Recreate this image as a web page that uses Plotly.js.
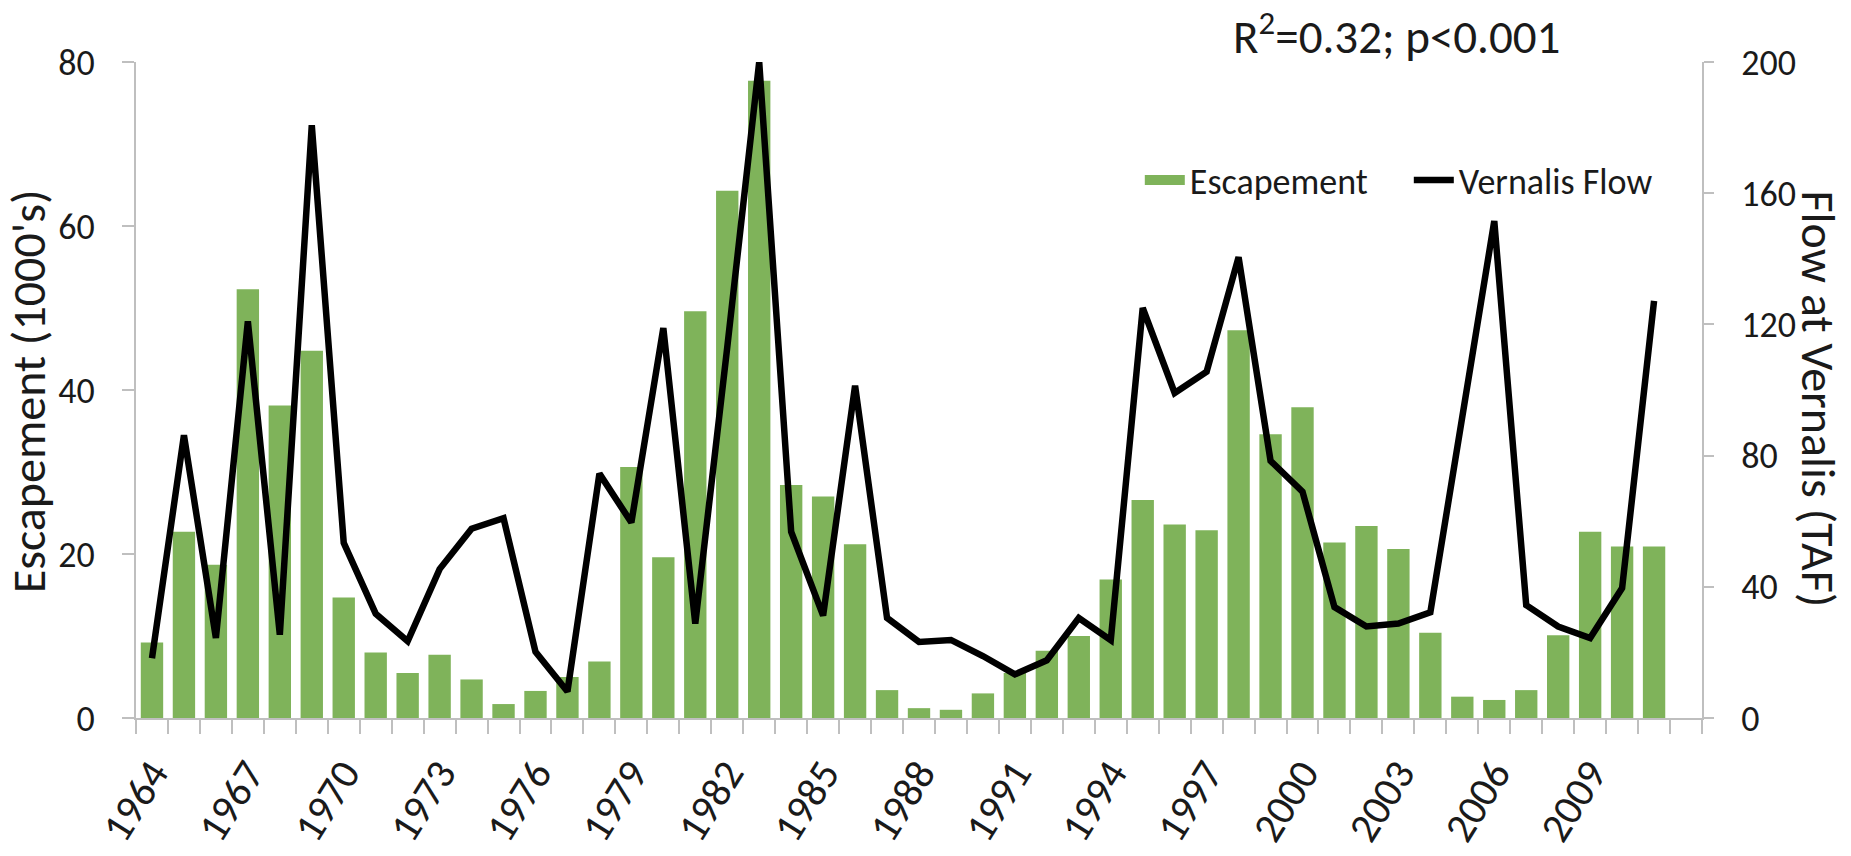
<!DOCTYPE html>
<html>
<head>
<meta charset="utf-8">
<script src="https://cdn.plot.ly/plotly-3.0.1.min.js"></script>
<style>
html,body{margin:0;padding:0;background:#fff;}
#chart{width:1851px;height:856px;}
</style>
</head>
<body>
<div id="chart"></div>
<script>
// ---- data ----
const years = [1964,1965,1966,1967,1968,1969,1970,1971,1972,1973,1974,1975,1976,
  1977,1978,1979,1980,1981,1982,1983,1984,1985,1986,1987,1988,1989,
  1990,1991,1992,1993,1994,1995,1996,1997,1998,1999,2000,
  2001,2002,2003,2004,2005,2006,2007,2008,2009,2010,2011];

// Escapement (1000's) - bars, left axis
const escapement = [9.2,22.7,18.7,52.3,38.1,44.8,14.7,8.0,5.5,7.7,4.7,1.7,3.3,
  5.0,6.9,30.6,19.6,49.6,64.3,77.7,28.4,27.0,21.2,3.4,1.2,1.0,
  3.0,5.5,8.2,10.0,16.9,26.6,23.6,22.9,47.3,34.6,37.9,
  21.4,23.4,20.6,10.4,2.6,2.2,3.4,10.1,22.7,20.9,20.9];

// Flow at Vernalis (TAF) - line, right axis
const vernalisFlow = [18.2,86.2,24.4,120.9,25.4,180.7,53.4,31.8,23.4,45.4,57.7,60.9,20.2,
  8.1,74.5,59.6,118.9,28.8,113,200,56.8,31.2,101.3,30.5,23.2,23.8,
  18.9,13.3,17.6,30.5,23.7,125.0,99.1,105.6,140.5,78.4,69.0,
  33.8,27.9,28.8,32.2,91,151.5,34.4,27.9,24.4,39.6,127.2];

// x tick labels shown every third year
const tickYears = [1964,1967,1970,1973,1976,1979,1982,1985,1988,1991,1994,1997,2000,2003,2006,2009];
const tickLabels = tickYears.map(String);

const leftTicks = [0,20,40,60,80];
const rightTicks = [0,40,80,120,160,200];

const FONT = "Carlito, Calibri, Lato, 'Open Sans', sans-serif";
const TXT = '#1a1a1a';
const AX = '#bfbfbf';
const GREEN = '#7fb35a';

const traces = [
  {
    type: 'bar', name: 'Escapement', x: years, y: escapement,
    marker: {color: GREEN}, width: 0.7, yaxis: 'y', showlegend: false
  },
  // legend key for the bars (wide green block as in the reference)
  {
    type: 'scatter', mode: 'lines', name: 'Escapement', x: [null], y: [null],
    line: {color: GREEN, width: 18}, yaxis: 'y', showlegend: true
  },
  {
    type: 'scatter', mode: 'lines', name: 'Vernalis Flow', x: years, y: vernalisFlow,
    line: {color: '#000000', width: 6.5}, yaxis: 'y2'
  }
];

const layout = {
  width: 1851, height: 856,
  margin: {l: 136, r: 149, t: 62, b: 138},
  paper_bgcolor: '#ffffff', plot_bgcolor: '#ffffff',
  font: {family: FONT, color: TXT, size: 36},
  showlegend: true,
  title: {
    text: 'R<sup>2</sup>=0.32; p&lt;0.001',
    font: {family: FONT, size: 47, color: TXT},
    x: 0.7546, xanchor: 'center', xref: 'container',
    y: 0.957, yanchor: 'middle', yref: 'container'
  },
  xaxis: {
    range: [1963.5, 2012.5],
    tickmode: 'array', tickvals: tickYears, ticktext: tickLabels,
    tickangle: -58, ticks: '', ticklabelstandoff: 12,
    tickfont: {family: FONT, size: 42, color: TXT},
    showline: true, linecolor: AX, linewidth: 2,
    showgrid: false, zeroline: false,
    minor: {tick0: 1963.5, dtick: 1, ticks: 'outside', ticklen: 14, tickcolor: AX, tickwidth: 2, showgrid: false}
  },
  yaxis: {
    range: [0, 80], tickmode: 'array', tickvals: leftTicks,
    ticks: 'outside', ticklen: 12, tickcolor: AX, tickwidth: 2, ticklabelstandoff: 20,
    tickfont: {family: FONT, size: 36, color: TXT},
    showline: true, linecolor: AX, linewidth: 2,
    showgrid: false, zeroline: false
  },
  yaxis2: {
    range: [0, 200], tickmode: 'array', tickvals: rightTicks,
    overlaying: 'y', side: 'right',
    ticks: 'outside', ticklen: 10, tickcolor: AX, tickwidth: 2, ticklabelstandoff: 20,
    tickfont: {family: FONT, size: 36, color: TXT},
    showline: true, linecolor: AX, linewidth: 2,
    showgrid: false, zeroline: false
  },
  legend: {
    orientation: 'h', x: 0.641, xanchor: 'left', y: 0.82, yanchor: 'middle',
    font: {family: FONT, size: 36, color: TXT},
    bgcolor: 'rgba(0,0,0,0)', itemwidth: 40, traceorder: 'normal',
    entrywidth: 214, entrywidthmode: 'pixels'
  },
  annotations: [
    {
      text: "Escapement (1000's)", textangle: -90,
      xref: 'paper', yref: 'paper', x: -0.069, y: 0.498, xanchor: 'center', yanchor: 'middle',
      showarrow: false, font: {family: FONT, size: 48, color: TXT}
    },
    {
      text: 'Flow at Vernalis (TAF)', textangle: 90,
      xref: 'paper', yref: 'paper', x: 1.0745, y: 0.486, xanchor: 'center', yanchor: 'middle',
      showarrow: false, font: {family: FONT, size: 48, color: TXT}
    }
  ]
};

Plotly.newPlot('chart', traces, layout, {displayModeBar: false, staticPlot: true});
</script>
</body>
</html>
